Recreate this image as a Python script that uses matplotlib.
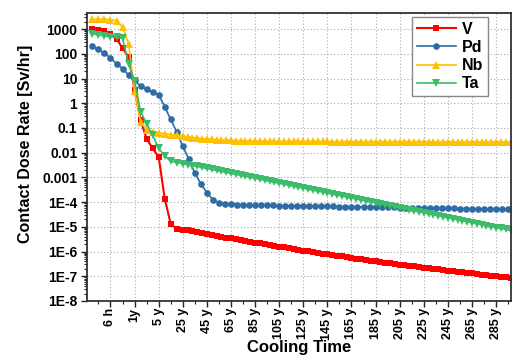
import numpy as np
import matplotlib
matplotlib.use('Agg')
import matplotlib.pyplot as plt
from matplotlib.ticker import LogLocator, NullFormatter, FixedLocator

plt.rcParams['font.family'] = ['Liberation Sans', 'DejaVu Sans']

# ---- axis categories ----
tick_labels = ['6 h', '1y', '5 y', '25 y', '45 y', '65 y', '85 y', '105 y', '125 y',
               '145 y', '165 y', '185 y', '205 y', '225 y', '245 y', '265 y', '285 y']
ytick_vals = [1e-8, 1e-7, 1e-6, 1e-5, 1e-4, 1e-3, 1e-2, 1e-1, 1, 10, 100, 1000]
ytick_text = ['1E-8', '1E-7', '1E-6', '1E-5', '1E-4', '0.001', '0.01', '0.1', '1', '10', '100', '1000']

# sample positions on the category axis
x_early = np.arange(-0.75, 2.76, 0.25)          # 15 points (short cooling times)
x_fine = np.arange(3.0, 16.61, 0.2)             # 69 points (V, Nb, Ta long term)
x_pd_late = np.arange(3.0, 16.51, 0.25)         # 55 points (Pd long term)

# ---- series values [Sv/hr] ----
V_early = [1000, 950, 800, 620, 400, 170, 74, 3.4, 0.21, 0.036, 0.015, 0.0066, 1.4e-4, 1.3e-5, 8.5e-6]
V_late = [7.76e-6, 7.13e-6, 6.55e-6, 6.03e-6, 5.55e-6, 5.11e-6, 4.70e-6, 4.33e-6, 3.99e-6, 3.68e-6,
          3.40e-6, 3.14e-6, 2.90e-6, 2.69e-6, 2.49e-6, 2.30e-6, 2.13e-6, 1.98e-6, 1.83e-6, 1.70e-6,
          1.58e-6, 1.47e-6, 1.36e-6, 1.27e-6, 1.18e-6, 1.10e-6, 1.03e-6, 9.55e-7, 8.91e-7, 8.32e-7,
          7.76e-7, 7.26e-7, 6.78e-7, 6.35e-7, 5.94e-7, 5.56e-7, 5.21e-7, 4.89e-7, 4.59e-7, 4.31e-7,
          4.05e-7, 3.80e-7, 3.58e-7, 3.37e-7, 3.17e-7, 2.99e-7, 2.81e-7, 2.65e-7, 2.51e-7, 2.37e-7,
          2.23e-7, 2.11e-7, 2.00e-7, 1.89e-7, 1.79e-7, 1.69e-7, 1.61e-7, 1.52e-7, 1.45e-7, 1.37e-7,
          1.30e-7, 1.24e-7, 1.18e-7, 1.12e-7, 1.07e-7, 1.02e-7, 9.70e-8, 9.27e-8, 8.83e-8]

Pd_early = [200, 150, 105, 68, 40, 25, 14, 8.4, 5.0, 3.6, 2.9, 2.2, 0.72, 0.22, 0.068]
Pd_late = [0.018, 0.0055, 0.0015, 5.5e-4, 2.4e-4, 1.25e-4, 9.5e-5, 8.7e-5, 8.3e-5, 8.0e-5,
           7.8e-5, 7.6e-5, 7.53e-5, 7.46e-5, 7.40e-5, 7.33e-5, 7.26e-5, 7.19e-5, 7.13e-5, 7.06e-5,
           7.00e-5, 6.93e-5, 6.87e-5, 6.81e-5, 6.75e-5, 6.68e-5, 6.62e-5, 6.56e-5, 6.50e-5, 6.44e-5,
           6.38e-5, 6.32e-5, 6.27e-5, 6.21e-5, 6.15e-5, 6.10e-5, 6.04e-5, 5.98e-5, 5.93e-5, 5.87e-5,
           5.82e-5, 5.77e-5, 5.71e-5, 5.66e-5, 5.61e-5, 5.56e-5, 5.51e-5, 5.46e-5, 5.41e-5, 5.36e-5,
           5.31e-5, 5.26e-5, 5.21e-5, 5.16e-5, 5.12e-5]

Nb_early = [2500, 2500, 2500, 2400, 2200, 1200, 260, 3.0, 0.18, 0.085, 0.07, 0.063, 0.058, 0.054, 0.051]
Nb_late = [0.047, 0.044, 0.041, 0.039, 0.037, 0.036, 0.035, 0.034, 0.033, 0.032,
           0.032, 0.031, 0.031, 0.030, 0.030, 0.029, 0.029, 0.029,
           0.0285, 0.0285, 0.0285, 0.0285, 0.0285, 0.0285, 0.0285, 0.0285, 0.0285, 0.0285,
           0.0285, 0.0285, 0.0285,
           0.028, 0.028, 0.028, 0.028, 0.028, 0.028, 0.028, 0.028, 0.028, 0.028,
           0.028, 0.028, 0.028, 0.028, 0.028, 0.028, 0.028, 0.028, 0.028, 0.028,
           0.0275, 0.0275, 0.0275, 0.0275, 0.0275, 0.0275, 0.0275, 0.0275, 0.0275, 0.0275,
           0.0275, 0.0275, 0.0275, 0.0275, 0.0275, 0.0275, 0.0275, 0.0275]

Ta_early = [650, 580, 520, 490, 470, 420, 40, 8.0, 0.45, 0.15, 0.05, 0.015, 0.0075, 0.0045, 0.0040]
Ta_late = [3.63e-3, 3.31e-3, 3.02e-3, 2.76e-3, 2.52e-3, 2.30e-3, 2.10e-3, 1.91e-3, 1.74e-3, 1.59e-3,
           1.45e-3, 1.32e-3, 1.21e-3, 1.10e-3, 1.01e-3, 9.18e-4, 8.38e-4, 7.64e-4, 6.98e-4, 6.37e-4,
           5.81e-4, 5.30e-4, 4.84e-4, 4.42e-4, 4.03e-4, 3.67e-4, 3.35e-4, 3.06e-4, 2.79e-4, 2.55e-4,
           2.32e-4, 2.12e-4, 1.93e-4, 1.77e-4, 1.61e-4, 1.47e-4, 1.34e-4, 1.22e-4, 1.12e-4, 1.02e-4,
           9.29e-5, 8.48e-5, 7.73e-5, 7.06e-5, 6.44e-5, 5.87e-5, 5.36e-5, 4.89e-5, 4.46e-5, 4.07e-5,
           3.72e-5, 3.39e-5, 3.09e-5, 2.82e-5, 2.58e-5, 2.35e-5, 2.14e-5, 1.96e-5, 1.79e-5, 1.63e-5,
           1.49e-5, 1.36e-5, 1.24e-5, 1.13e-5, 1.03e-5, 9.40e-6, 8.58e-6, 7.82e-6, 7.14e-6]

x_main = np.concatenate([x_early, x_fine])
x_pd = np.concatenate([x_early, x_pd_late])
V = V_early + V_late
Pd = Pd_early + Pd_late
Nb = Nb_early + Nb_late
Ta = Ta_early + Ta_late

series = [
    ('V', x_main, V, '#FF0000', 's', 4.3, 1.5),
    ('Pd', x_pd, Pd, '#2E6CA6', 'o', 4.8, 1.2),
    ('Nb', x_main, Nb, '#FFC000', '^', 5.3, 1.2),
    ('Ta', x_main, Ta, '#3CBB6A', 'v', 5.3, 1.2),
]

fig = plt.figure(figsize=(5.13, 3.61), dpi=100)
ax = fig.add_axes([87 / 513, 1 - 301 / 361, (511 - 87) / 513, (301 - 13) / 361])

for name, xs, ys, col, mk, ms, lw in series:
    ax.plot(xs, ys, color=col, marker=mk, markersize=ms, linewidth=lw,
            markeredgewidth=0, label=name)

ax.set_yscale('log')
ax.set_ylim(1e-8, 10 ** 3.65)
ax.set_xlim(-0.975, 16.62)

ax.set_yticks(ytick_vals)
ax.set_yticklabels(ytick_text, fontsize=10, fontweight='bold')
ax.yaxis.set_minor_locator(LogLocator(base=10, subs=np.arange(2, 10), numticks=30))
ax.yaxis.set_minor_formatter(NullFormatter())

ax.set_xticks(np.arange(len(tick_labels)))
ax.set_xticklabels(tick_labels, rotation=90, fontsize=9, fontweight='bold')
ax.xaxis.set_minor_locator(FixedLocator(np.arange(-0.5, 16.6, 1.0)))

ax.tick_params(axis='both', which='major', direction='out', length=4, width=1.0,
               color='#222222', pad=3)
ax.tick_params(axis='both', which='minor', direction='out', length=2.5, width=0.8,
               color='#222222')
ax.tick_params(axis='x', which='major', pad=1)

ax.grid(True, which='major', linestyle=(0, (1, 2)), color='#AAAAAA', linewidth=0.8)
ax.set_axisbelow(True)

for side in ['left', 'bottom', 'top', 'right']:
    ax.spines[side].set_linewidth(1.3)
    ax.spines[side].set_color('#333333')

ax.set_ylabel('Contact Dose Rate [Sv/hr]', fontsize=11.5, fontweight='bold')
ax.yaxis.set_label_coords(-0.128, 0.545)
ax.set_xlabel('Cooling Time', fontsize=12, fontweight='bold')
ax.xaxis.set_label_coords(0.5, -0.137)

leg = ax.legend(loc='upper right', bbox_to_anchor=(0.946, 0.986), borderaxespad=0,
                prop={'weight': 'bold', 'size': 11.5}, fancybox=False, framealpha=1,
                edgecolor='#888888', handlelength=2.4, handletextpad=0.4,
                labelspacing=0.2, borderpad=0.3)
leg.get_frame().set_linewidth(1.0)

fig.savefig('out.png', dpi=100)
